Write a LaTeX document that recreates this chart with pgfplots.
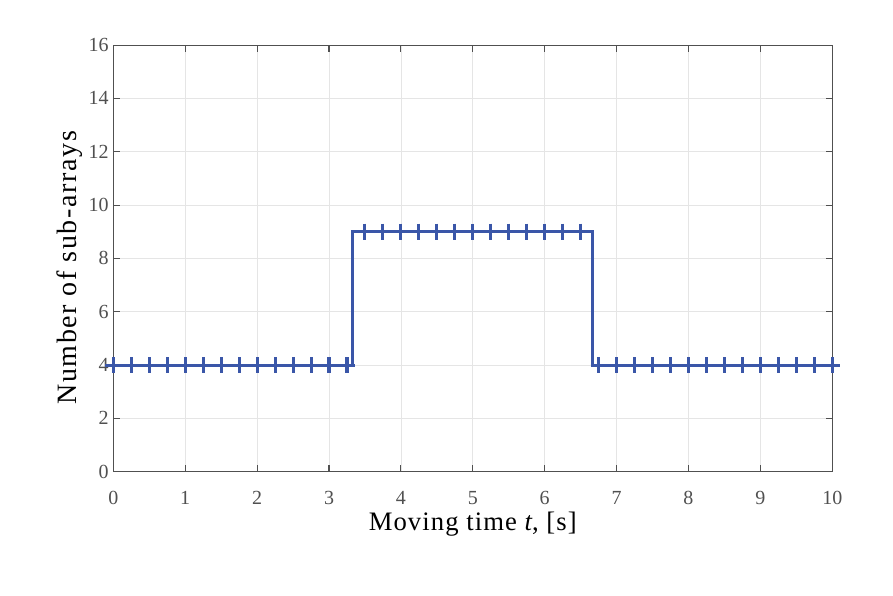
\documentclass[border=0pt]{standalone}
\usepackage{fontspec}
\setmainfont{Liberation Serif}
\usepackage{pgfplots}
\pgfplotsset{compat=1.18}
\definecolor{lineblue}{RGB}{58,86,168}
\definecolor{axgray}{RGB}{80,80,80}

\begin{document}
\begin{tikzpicture}
    \begin{axis}[
        scale only axis,
        width=539.25pt, height=320pt,
        xmin=0, xmax=10, ymin=0, ymax=16,
        xtick={0,1,...,10},
        ytick={0,2,...,16},
        grid=major,
        major grid style={color=black!10, line width=0.6pt},
        axis line style={color=axgray, line width=0.8pt},
        major tick style={color=axgray, line width=0.8pt},
        major tick length=5pt,
        tick align=inside,
        xtick pos=both, ytick pos=both,
        /pgf/number format/assume math mode=true,
        tick label style={font=\fontsize{15}{15}\selectfont, color=axgray},
        xticklabel style={yshift=-11pt},
        xlabel={Moving time \textit{t}, [s]},
        ylabel={Number of sub-arrays},
        xlabel style={font=\fontsize{20}{20}\selectfont\addfontfeature{LetterSpace=4}, yshift=1pt},
        ylabel style={font=\fontsize{21}{21}\selectfont\addfontfeature{LetterSpace=6}, yshift=-2pt, xshift=-7pt},
        clip=false,
    ]
        % step line
        \addplot[lineblue, line width=2.3pt] coordinates {
            (0,4) (3.333,4) (3.333,9) (6.667,9) (6.667,4) (10,4)
        };
        % sample markers
        \addplot[only marks, mark=+, mark size=6pt, lineblue, line width=2.3pt] coordinates {
            (0,4) (0.25,4) (0.5,4) (0.75,4) (1,4) (1.25,4) (1.5,4) (1.75,4)
            (2,4) (2.25,4) (2.5,4) (2.75,4) (3,4) (3.25,4)
            (3.5,9) (3.75,9) (4,9) (4.25,9) (4.5,9) (4.75,9) (5,9) (5.25,9)
            (5.5,9) (5.75,9) (6,9) (6.25,9) (6.5,9)
            (6.75,4) (7,4) (7.25,4) (7.5,4) (7.75,4) (8,4) (8.25,4) (8.5,4)
            (8.75,4) (9,4) (9.25,4) (9.5,4) (9.75,4) (10,4)
        };
    \end{axis}
    \pgfresetboundingbox
    \path[use as bounding box] (-85pt,-93.2pt) rectangle (584.8pt,353.8pt);
\end{tikzpicture}
\end{document}
